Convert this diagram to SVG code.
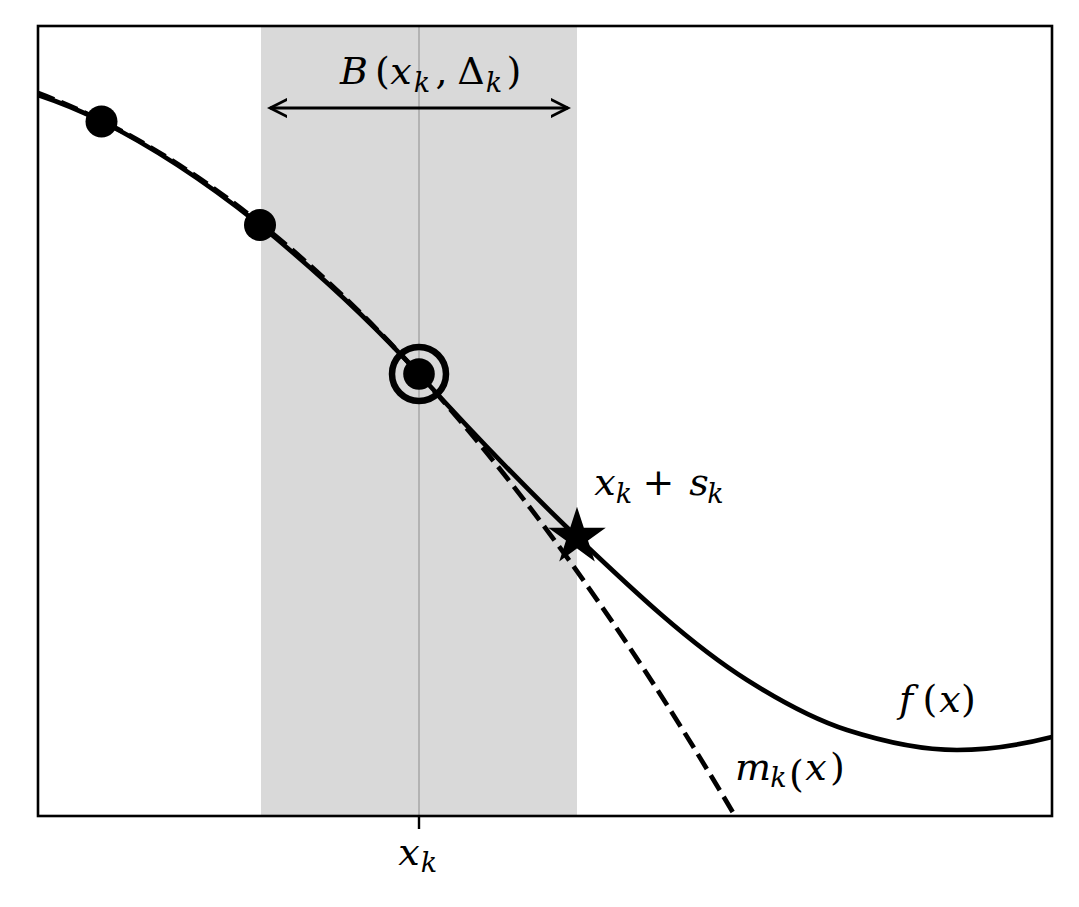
<svg xmlns="http://www.w3.org/2000/svg" width="1079" height="907" viewBox="0 0 1079 907">
<style>
.m{font-family:"DejaVu Serif","Liberation Serif",serif;font-style:italic;fill:#000}
.u{font-family:"DejaVu Serif","Liberation Serif",serif;font-style:normal;fill:#000}
text{text-anchor:middle}
.big{font-size:38px}
.sub{font-size:27px}
.curve{fill:none;stroke:#000;stroke-width:4.7}
.dot{fill:#000}
</style>
<defs>
<marker id="ah" viewBox="0 0 20 20" refX="17" refY="10" markerWidth="20" markerHeight="20" markerUnits="userSpaceOnUse" orient="auto-start-reverse">
<path d="M0,1.5 L17,10 L0,18.5" fill="none" stroke="#000" stroke-width="2.8" stroke-linecap="round" stroke-linejoin="miter"/>
</marker>
</defs>
<rect width="1079" height="907" fill="#fff"/>
<g id="trust-region">
<rect x="261" y="26" width="316" height="790" fill="#d9d9d9"/>
</g>
<g id="xk-line">
<line x1="419" y1="26" x2="419" y2="816" stroke="#b3b3b3" stroke-width="2"/>
</g>
<g id="connectors">
<path id="f-curve" class="curve" d="M38,95 C59,102 80,110.5 101,121 C154,147.5 207,182.7 260,225 C313,268.5 366,316 419,374 C471.7,431.9 524.3,487 577,537 C633.7,590.8 690.3,644.3 747,680 C780.3,701 813.7,719.3 847,730 C883.7,741.7 920.3,750 957,750 C988.7,750 1020.3,745 1052,737"/>
<path id="m-curve" class="curve" stroke-dasharray="17.5 7.5" d="M38,93 Q386.5,224 735,816"/>
<line id="delta-arrow" x1="270" y1="108" x2="568" y2="108" stroke="#000" stroke-width="2.8" marker-start="url(#ah)" marker-end="url(#ah)"/>
</g>
<g id="samples">
<circle class="dot" cx="101.5" cy="121.5" r="16"/>
<circle class="dot" cx="260" cy="225" r="16"/>
</g>
<g id="xk-point">
<circle class="dot" cx="419" cy="374" r="15.8"/>
<circle cx="419" cy="374" r="27" fill="none" stroke="#000" stroke-width="6.5"/>
</g>
<g id="step-star">
<polygon points="577,510 583.05,528.67 602.68,528.66 586.8,540.18 592.87,558.84 577,547.3 561.13,558.84 567.2,540.18 551.32,528.66 570.95,528.67" fill="#000" stroke="#000" stroke-width="2" stroke-linejoin="miter"/>
</g>
<g id="frame">
<rect x="38" y="26" width="1014" height="790" fill="none" stroke="#000" stroke-width="2.6"/>
<line x1="419" y1="816" x2="419" y2="829" stroke="#000" stroke-width="2.4"/>
</g>
<g id="label-B">
<text class="big" y="84"><tspan class="m" x="354">B</tspan><tspan class="u" x="382.5">(</tspan><tspan class="m" x="401">x</tspan><tspan class="m sub" x="422" y="92">k</tspan><tspan class="u" x="441.5" y="84">,</tspan><tspan class="u" x="471">Δ</tspan><tspan class="m sub" x="494" y="92">k</tspan><tspan class="u" x="514" y="84">)</tspan></text>
</g>
<g id="label-step">
<text class="big" y="495"><tspan class="m" x="605">x</tspan><tspan class="m sub" x="624" y="503">k</tspan><tspan class="u" x="658.5" y="495">+</tspan><tspan class="m" x="699">s</tspan><tspan class="m sub" x="715.5" y="503">k</tspan></text>
</g>
<g id="label-f">
<text class="big" y="712"><tspan class="m" x="906">f</tspan><tspan class="u" x="930">(</tspan><tspan class="m" x="950">x</tspan><tspan class="u" x="968.5">)</tspan></text>
</g>
<g id="label-m">
<text class="big" y="780"><tspan class="m" x="753">m</tspan><tspan class="m sub" x="778.5" y="787">k</tspan><tspan class="u" x="796.5">(</tspan><tspan class="m" x="816" y="780">x</tspan><tspan class="u" x="837.5">)</tspan></text>
</g>
<g id="label-xk">
<text class="big" y="865"><tspan class="m" x="409">x</tspan><tspan class="m sub" x="429" y="872">k</tspan></text>
</g>
</svg>
